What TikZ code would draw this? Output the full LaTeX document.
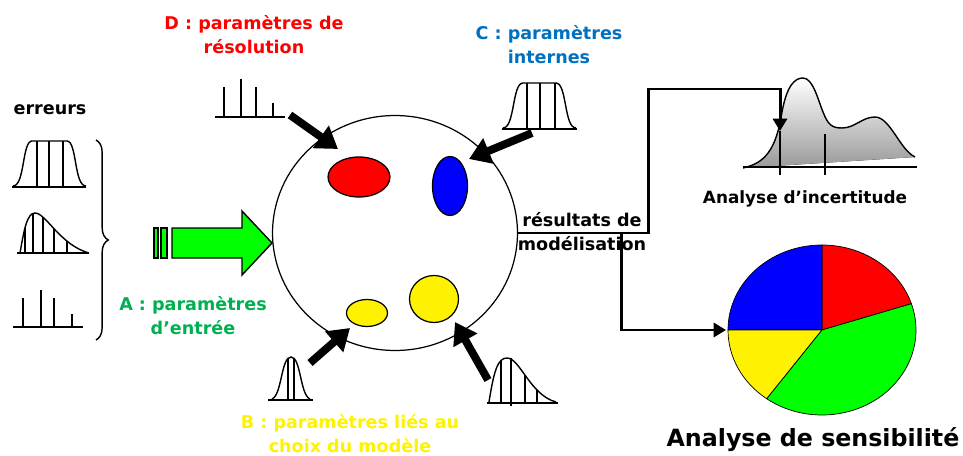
\documentclass[tikz,border=0pt]{standalone}
\usepackage{fontspec}
\setmainfont{DejaVu Sans}
\usetikzlibrary{arrows.meta, shapes.geometric, decorations.pathreplacing}
\definecolor{cblue}{RGB}{0,112,192}
\definecolor{agreen}{RGB}{0,176,80}
\definecolor{lgreen}{RGB}{0,255,0}

\begin{document}
\begin{tikzpicture}[
  x=0.02cm, y=-0.02cm,
  lbl/.style={font=\fontsize{10}{13.6}\selectfont\bfseries, align=center, inner sep=0pt},
  blob/.style={draw, ellipse, line width=0.7pt, inner sep=0pt},
  parr/.style={-{Triangle[length=12pt,width=15pt]}, line width=4.5pt},
  oarr/.style={-{Triangle[length=7pt,width=8pt]}, line width=1.7pt},
  dist/.style={line width=0.8pt},
  base/.style={line width=1pt}
]

%% Frame
\useasboundingbox (0,0) rectangle (963,456);

%% Model and the parameter groups inside it
\node[blob, minimum width=4.9cm, minimum height=4.7cm] (model) at (395,233) {};
\node[blob, fill=red,    minimum width=1.24cm, minimum height=0.8cm]  (resD)  at (359,177) {};
\node[blob, fill=blue,   minimum width=0.7cm,  minimum height=1.18cm] (resC)  at (450,186) {};
\node[blob, fill=yellow, minimum width=0.82cm, minimum height=0.54cm] (resB1) at (367,313) {};
\node[blob, fill=yellow, minimum width=0.98cm, minimum height=0.94cm] (resB2) at (434,299) {};

%% Errors (left column)
\node[lbl] (err) at (50,110) {erreurs};
\draw[dist] (13,186) .. controls (25,186) and (22,141) .. (32,141) -- (67,141)
            .. controls (77,141) and (74,186) .. (86,186);
\draw[dist] (37,187) -- (37,141) (49,187) -- (49,141) (63,187) -- (63,141);
\draw[base] (12,187) -- (86,187);

\begin{scope}
  \clip (20,253) .. controls (24,230) and (27,213) .. (35,213)
        .. controls (46,213) and (60,245) .. (89,253) -- cycle;
  \draw[dist] (25,253) -- (25,200) (33,253) -- (33,200) (43,253) -- (43,200)
              (54,253) -- (54,200) (67,253) -- (67,200);
\end{scope}
\draw[dist] (20,253) .. controls (24,230) and (27,213) .. (35,213)
            .. controls (46,213) and (60,245) .. (89,253);
\draw[base] (17,253) -- (89,253);

\draw[dist] (23,327) -- (23,298) (41,327) -- (41,290) (54,327) -- (54,298) (72,327) -- (72,314);
\draw[base] (13,327) -- (83,327);

\draw[dist, decorate, decoration={brace, amplitude=7pt}] (96,140) -- (96,340);

%% A : input parameters
\coordinate (tipA) at (272,243);
\draw[line width=0.8pt, fill=lgreen] (154,228) rectangle (158,258);
\draw[line width=0.8pt, fill=lgreen] (161,228) rectangle (167,258);
\draw[line width=0.8pt, fill=lgreen] (172,228) -- (242,228) -- (242,211) -- (tipA)
      -- (242,275) -- (242,258) -- (172,258) -- cycle;
\node[lbl, agreen] (labA) at (193,316) {A : paramètres\\d’entrée};

%% D : resolution parameters
\node[lbl, red] (labD) at (254,35) {D : paramètres de\\résolution};
\draw[dist] (224,117) -- (224,87) (241,117) -- (241,79) (256,117) -- (256,87) (273,117) -- (273,103);
\draw[base] (215,117) -- (285,117);
\coordinate (iconD) at (290,115);
\coordinate (tipD)  at (338,149);
\draw[parr] (iconD) -- (tipD);

%% C : internal parameters
\node[lbl, cblue] (labC) at (549,45) {C : paramètres\\internes};
\draw[dist] (503,128) .. controls (515,128) and (512,83) .. (523,83) -- (556,83)
            .. controls (567,83) and (564,128) .. (576,128);
\draw[dist] (527,129) -- (527,83) (540,129) -- (540,83) (555,129) -- (555,83);
\draw[base] (502,129) -- (577,129);
\coordinate (iconC) at (532,133);
\coordinate (tipC)  at (469,159);
\draw[parr] (iconC) -- (tipC);

%% B : model choice parameters
\node[lbl, yellow] (labB) at (350,434) {B : paramètres liés au\\choix du modèle};
\begin{scope}
  \clip (272,400) .. controls (282,395) and (281,357) .. (291,357)
        .. controls (301,357) and (300,395) .. (310,400) -- cycle;
  \draw[dist] (288,400) -- (288,350) (294,400) -- (294,350);
\end{scope}
\draw[dist] (272,399) .. controls (282,395) and (281,357) .. (291,357)
            .. controls (301,357) and (300,395) .. (310,399);
\draw[base] (268,400) -- (313,400);
\coordinate (iconB1) at (310,363);
\coordinate (tipB1)  at (350,328);
\draw[parr] (iconB1) -- (tipB1);

\begin{scope}
  \clip (489,403) .. controls (494,370) and (498,358) .. (507,358)
        .. controls (520,358) and (530,395) .. (556,403) -- cycle;
  \draw[dist] (501,403) -- (501,350) (525,403) -- (525,350) (537,403) -- (537,350);
\end{scope}
\draw[dist] (511,406) -- (511,358);
\draw[dist] (489,402) .. controls (494,370) and (498,358) .. (507,358)
            .. controls (520,358) and (530,395) .. (556,402);
\draw[base] (487,403) -- (558,403);
\coordinate (iconB2) at (488,380);
\coordinate (tipB2)  at (455,322);
\draw[parr] (iconB2) -- (tipB2);

%% Model outputs
\node[lbl] (res) at (582,232) {résultats de\\modélisation};
\path (model.east) ++(103,0) coordinate (split);
\coordinate (incert) at (780,131);
\coordinate (pieW)   at (726,330);

%% Uncertainty analysis
\fill[top color=white, bottom color=gray!80] (743,168) .. controls (765,163) and (776,150) .. (782,112)
      .. controls (787,85) and (795,78) .. (803,78) .. controls (813,78) and (818,100) .. (823,112)
      .. controls (828,125) and (832,128) .. (842,128) .. controls (855,128) and (862,117) .. (875,117)
      .. controls (890,117) and (900,150) .. (915,157) -- cycle;
\draw[dist] (743,168) .. controls (765,163) and (776,150) .. (782,112)
      .. controls (787,85) and (795,78) .. (803,78) .. controls (813,78) and (818,100) .. (823,112)
      .. controls (828,125) and (832,128) .. (842,128) .. controls (855,128) and (862,117) .. (875,117)
      .. controls (890,117) and (900,150) .. (915,157);
\draw[base] (743,167) -- (917,167);
\draw[dist] (780,131) -- (780,175) (825,134) -- (825,175);
\node[lbl, font=\fontsize{9.6}{12}\selectfont\bfseries] (incLbl) at (805,199) {Analyse d’incertitude};

%% Sensitivity analysis
\coordinate (pie) at (822,330);
\filldraw[fill=red, line width=0.4pt] (pie) -- ++(-18:94 and 85)
      arc[start angle=-18, end angle=-90, x radius=94, y radius=85] -- cycle;
\filldraw[fill=blue, line width=0.4pt] (pie) -- ++(-90:94 and 85)
      arc[start angle=-90, end angle=-180, x radius=94, y radius=85] -- cycle;
\filldraw[fill=yellow, line width=0.4pt] (pie) -- ++(-180:94 and 85)
      arc[start angle=-180, end angle=-234, x radius=94, y radius=85] -- cycle;
\filldraw[fill=lgreen, line width=0.4pt] (pie) -- ++(-234:94 and 85)
      arc[start angle=-234, end angle=-378, x radius=94, y radius=85] -- cycle;
\node[lbl, font=\fontsize{13.5}{16}\selectfont\bfseries] (sensLbl) at (813,440) {Analyse de sensibilité};

%% Connectors from the model
\draw[oarr] (model.east) -| (648,89) -| (incert);
\draw[oarr] (split) |- (pieW);

\end{tikzpicture}
\end{document}
